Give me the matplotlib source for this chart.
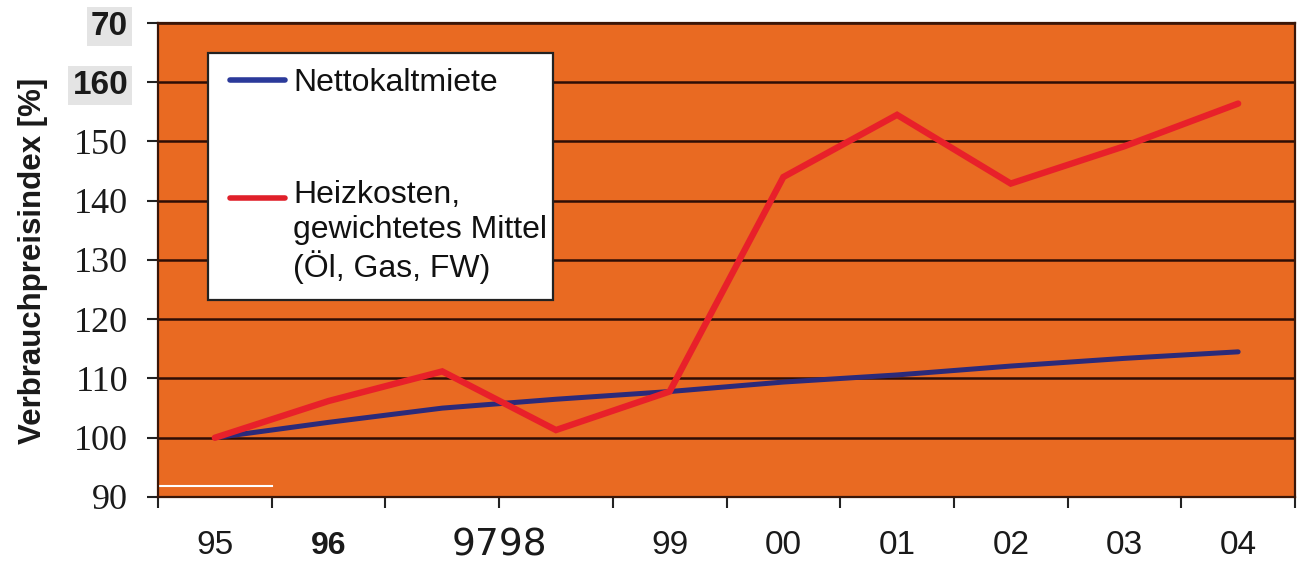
import matplotlib.pyplot as plt
from matplotlib.patches import Rectangle
from matplotlib.ticker import FixedLocator
import numpy as np

# data
years = ["95", "96", "97", "98", "99", "00", "01", "02", "03", "04"]
nettokaltmiete = [100.0, 102.6, 105.0, 106.5, 107.8, 109.4, 110.6, 112.1, 113.4, 114.5]
heizkosten = [100.0, 106.2, 111.2, 101.3, 107.8, 144.0, 154.5, 142.9, 149.2, 156.4]
series_names = ["Nettokaltmiete", "Heizkosten,\ngewichtetes Mittel\n(Öl, Gas, FW)"]

y_ticks = [90, 100, 110, 120, 130, 140, 150, 160, 170]
y_tick_labels = ["90", "100", "110", "120", "130", "140", "150", "160", "70"]
x_tick_labels = ["95", "96", "", "", "99", "00", "01", "02", "03", "04"]
merged_label = "9798"

orange = "#e96a22"
dark = "#2e0e06"

fig = plt.figure(figsize=(12.97, 5.62), dpi=100)
ax = fig.add_axes([158 / 1297, 65 / 562, 1137 / 1297, 474 / 562])
ax.set_facecolor(orange)

x = np.arange(len(years))
ax.plot(x, nettokaltmiete, color="#2b2a7a", lw=3.6, solid_capstyle="round", zorder=3)
ax.plot(x, heizkosten, color="#e8202a", lw=4.6, solid_capstyle="round",
        solid_joinstyle="miter", zorder=4)

ax.set_xlim(-0.5, len(years) - 0.5)
ax.set_ylim(90, 170)

#grid and frame
ax.set_axisbelow(True)
ax.yaxis.grid(True, color=dark, lw=1.8)
for side in ax.spines:
    ax.spines[side].set_color("#3a1608")
    ax.spines[side].set_linewidth(1.6)
# scan artefact: short white stroke near the bottom left
ax.axhline(91.8, xmin=0, xmax=0.1, color="white", lw=1.5, zorder=2)

#y axis
ax.set_yticks(y_ticks)
ax.set_yticklabels(y_tick_labels)
ax.tick_params(axis="y", length=8, width=1.5, color="#222222", pad=13.5)
for lab in ax.get_yticklabels():
    lab.set_fontfamily("Liberation Serif")
    lab.set_fontsize(26)
    lab.set_color("#1a1a1a")
    if lab.get_text() in ("160", "70"):
        lab.set_fontfamily("Liberation Sans")
        lab.set_fontweight("bold")
        lab.set_fontsize(24)
        lab.set_bbox(dict(facecolor="#e4e4e4", edgecolor="none", pad=3))

fig.text(33 / 1297, 0.535, "Verbrauchpreisindex [%]", rotation=90, ha="center",
         va="center", fontweight="bold", fontsize=22.5, family="Liberation Sans",
         color="#1a1a1a")

#x axis: labels at the centres, tick marks at the boundaries
ax.set_xticks(x)
ax.set_xticklabels(x_tick_labels)
ax.xaxis.set_minor_locator(FixedLocator(np.arange(len(years) + 1) - 0.5))
ax.tick_params(axis="x", which="major", length=0, pad=35)
ax.tick_params(axis="x", which="minor", length=8, width=1.5, color="#222222")
for i, lab in enumerate(ax.get_xticklabels()):
    lab.set_va("center")
    lab.set_color("#1a1a1a")
    lab.set_fontfamily("Liberation Sans")
    lab.set_fontsize(24)
    if i == 1:
        lab.set_fontweight("bold")
        lab.set_fontsize(23)
ax.text(2.5, -49 / 474, merged_label, transform=ax.get_xaxis_transform(),
        ha="center", va="center", fontsize=27, family="DejaVu Sans",
        color="#1a1a1a", clip_on=False)

#legend box drawn by hand to keep the wide spacing of the original
ax.add_patch(Rectangle((0.044, 0.416), 0.303, 0.521, transform=ax.transAxes,
                       facecolor="white", edgecolor="#222222", lw=1.6, zorder=5))
ax.plot([0.0633, 0.1117], [0.880, 0.880], transform=ax.transAxes, color="#2b3a9a",
        lw=4, solid_capstyle="round", zorder=6)
ax.plot([0.0633, 0.1117], [0.631, 0.631], transform=ax.transAxes, color="#e0202a",
        lw=4, solid_capstyle="round", zorder=6)
ax.text(0.1187, 0.880, series_names[0], transform=ax.transAxes, ha="left",
        va="center_baseline", fontsize=23, family="Liberation Sans", color="#111111", zorder=7)
ax.text(0.1187, 0.668, series_names[1], transform=ax.transAxes, ha="left",
        va="top", fontsize=23, family="Liberation Sans", color="#111111",
        linespacing=1.2, zorder=7)

plt.savefig("out.png", dpi=100)
